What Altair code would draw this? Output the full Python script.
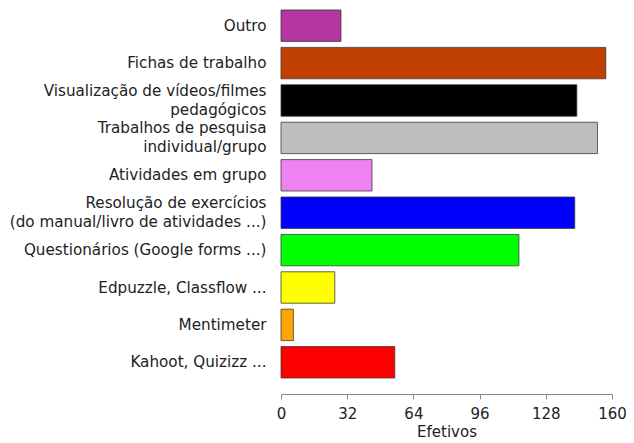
import altair as alt
import pandas as pd

categories = [
    "Outro",
    "Fichas de trabalho",
    "Visualização de vídeos/filmes\npedagógicos",
    "Trabalhos de pesquisa\nindividual/grupo",
    "Atividades em grupo",
    "Resolução de exercícios\n(do manual/livro de atividades ...)",
    "Questionários (Google forms ...)",
    "Edpuzzle, Classflow ...",
    "Mentimeter",
    "Kahoot, Quizizz ...",
]
values = [29, 157, 143, 153, 44, 142, 115, 26, 6, 55]
colors = ["#B5369F", "#BF4000", "#000000", "#BEBEBE", "#EE82EE",
          "#0000FF", "#00FF00", "#FFFF00", "#FFA500", "#FF0000"]
x_ticks = [0, 32, 64, 96, 128, 160]

df = pd.DataFrame({"cat": categories, "val": values})

chart = alt.Chart(df).mark_bar(
    stroke="#333333", strokeWidth=1, strokeOpacity=0.75
).encode(
    y=alt.Y("cat:N", sort=categories, title=None,
            scale=alt.Scale(paddingInner=0.16, paddingOuter=0.053),
            axis=alt.Axis(ticks=False, domain=False, labelPadding=15,
                          labelFont="DejaVu Sans", labelFontSize=15.2,
                          labelColor="#222222", labelLimit=400,
                          labelLineHeight=19, labelBaseline="middle",
                          labelOffset=alt.condition(
                              "indexof(datum.value, '\\n') >= 0",
                              alt.value(-9.5), alt.value(0)),
                          labelExpr="split(datum.label, '\\n')")),
    x=alt.X("val:Q", title="Efetivos",
            scale=alt.Scale(domain=[0, 160], nice=False),
            axis=alt.Axis(values=x_ticks, grid=False, offset=14,
                          tickSize=5, tickColor="#888888", domainColor="#888888",
                          labelFont="DejaVu Sans", labelFontSize=15,
                          labelPadding=7, labelFlush=False,
                          labelColor="#222222", titleFont="DejaVu Sans",
                          titleFontSize=15, titleFontWeight="normal",
                          titleColor="#222222", titlePadding=3)),
    color=alt.Color("cat:N", scale=alt.Scale(domain=categories, range=colors),
                    legend=None),
).properties(
    width=331, height=372,
    autosize=alt.AutoSizeParams(type="none"),
    padding={"left": 273, "top": 0, "right": 14, "bottom": 62},
).configure_view(stroke=None)

chart.save("out.html", embed_options={"renderer": "svg", "actions": False})
